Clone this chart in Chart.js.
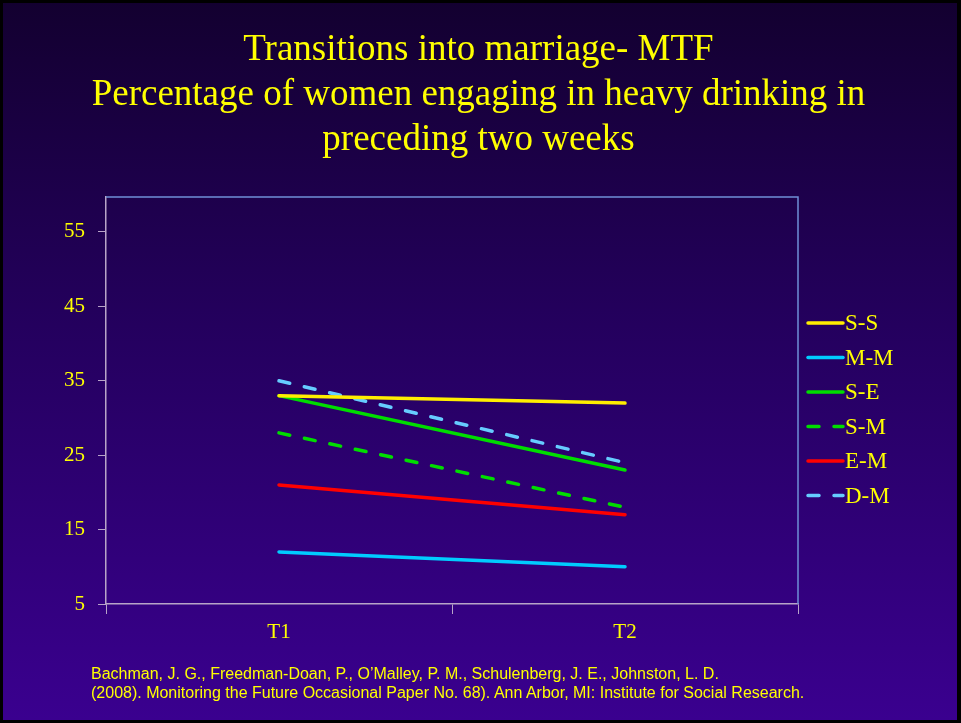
<!DOCTYPE html>
<html>
<head>
<meta charset="utf-8">
<script src="https://cdn.jsdelivr.net/npm/chart.js@4"></script>
<style>
    html, body { margin: 0; padding: 0; background: #000; }
    .slide {
        position: absolute; left: 3px; top: 3px; width: 954px; height: 717px;
        background: linear-gradient(to bottom, #130030 0%, #24005e 45%, #3a008f 100%);
        overflow: hidden;
    }
    .title {
        position: absolute; left: 0; top: 25px; width: 961px; text-align: center;
        font-family: "Liberation Serif", serif; font-size: 37px; line-height: 45px; color: #ffff00;
        margin-left: -2px;
    }
    .note {
        position: absolute; left: 91px; top: 664px;
        font-family: "Liberation Sans", sans-serif; font-size: 16px; line-height: 19px; color: #ffff00;
    }
    #chart { position: absolute; left: 0; top: 0; }
</style>
</head>
<body>
<div class="slide"></div>
<canvas id="chart" width="961" height="723"></canvas>
<div class="title">Transitions into marriage- MTF<br>Percentage of women engaging in heavy drinking in<br>preceding two weeks</div>
<div class="note">Bachman, J. G., Freedman-Doan, P., O’Malley, P. M., Schulenberg, J. E., Johnston, L. D.<br>(2008). Monitoring the Future Occasional Paper No. 68). Ann Arbor, MI: Institute for Social Research.</div>
<script>
const categories = ['T1', 'T2'];
const seriesNames = ['S-S', 'M-M', 'S-E', 'S-M', 'E-M', 'D-M'];
const ssValues = [33, 32];
const mmValues = [12, 10];
const seValues = [33, 23];
const smValues = [28, 18];
const emValues = [21, 17];
const dmValues = [35, 24];
const yTicks = [5, 15, 25, 35, 45, 55];

const colors = ['#ffee00', '#00ccff', '#00dd00', '#00dd00', '#ff0000', '#66ccff'];
const dashed = [false, false, false, true, false, true];
const values = [ssValues, mmValues, seValues, smValues, emValues, dmValues];

const datasets = seriesNames.map((name, i) => ({
    label: name,
    data: values[i],
    borderColor: colors[i],
    backgroundColor: colors[i],
    borderWidth: 3.5,
    borderDash: dashed[i] ? [11, 15] : [],
    borderCapStyle: 'round',
    pointRadius: 0,
    fill: false,
    tension: 0,
}));

// legend and top/right frame
const slideExtras = {
    id: 'slideExtras',
    afterDraw(chart) {
        const { ctx, chartArea } = chart;
        ctx.save();
        ctx.strokeStyle = '#6f8fd6';
        ctx.lineWidth = 1.5;
        ctx.beginPath();
        ctx.moveTo(chartArea.left, chartArea.top);
        ctx.lineTo(chartArea.right, chartArea.top);
        ctx.lineTo(chartArea.right, chartArea.bottom);
        ctx.stroke();

        ctx.font = '23px "Liberation Serif"';
        ctx.textBaseline = 'middle';
        ctx.textAlign = 'left';
        chart.data.datasets.forEach((ds, i) => {
            const y = 323 + i * 34.5;
            ctx.strokeStyle = ds.borderColor;
            ctx.lineWidth = 3.5;
            ctx.lineCap = 'round';
            ctx.setLineDash(ds.borderDash);
            ctx.beginPath();
            ctx.moveTo(808, y);
            ctx.lineTo(843, y);
            ctx.stroke();
            ctx.setLineDash([]);
            ctx.fillStyle = '#ffff00';
            ctx.fillText(ds.label, 845, y + 1);
        });
        ctx.restore();
    },
};

new Chart(document.getElementById('chart'), {
    type: 'line',
    data: { labels: categories, datasets },
    options: {
        responsive: false,
        animation: false,
        layout: { padding: { left: 0, top: 197, right: 163, bottom: 69 } },
        plugins: { legend: { display: false }, tooltip: { enabled: false } },
        scales: {
            x: {
                offset: true,
                afterFit(scale) { scale.height = 50; },
                grid: { offset: true, drawOnChartArea: false, drawTicks: true, tickLength: 10, color: '#b8a4c8' },
                border: { display: true, color: '#b8a4c8', width: 1.5 },
                ticks: { color: '#ffff00', font: { family: 'Liberation Serif', size: 21 }, padding: 6 },
            },
            y: {
                min: 5,
                max: 59.7,
                afterFit(scale) { scale.width = 106; },
                afterBuildTicks(scale) { scale.ticks = yTicks.map((v) => ({ value: v })); },
                grid: { drawOnChartArea: false, drawTicks: true, tickLength: 8, color: '#b8a4c8' },
                border: { display: true, color: '#b8a4c8', width: 1.5 },
                ticks: { color: '#ffff00', font: { family: 'Liberation Serif', size: 21 }, padding: 13 },
            },
        },
    },
    plugins: [slideExtras],
});
</script>
</body>
</html>
